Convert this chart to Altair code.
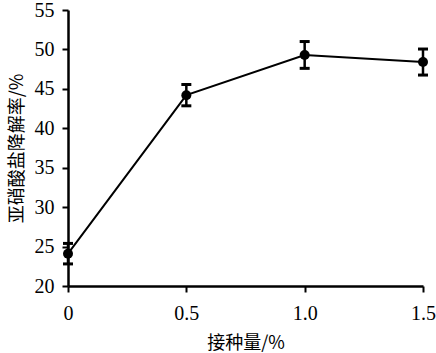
import altair as alt
import pandas as pd

inoculum = [0, 0.5, 1.0, 1.5]
rate = [24.1, 44.2, 49.3, 48.4]
err = [1.3, 1.35, 1.7, 1.65]

df = pd.DataFrame({
    "x": inoculum,
    "y": rate,
    "lo": [r - e for r, e in zip(rate, err)],
    "hi": [r + e for r, e in zip(rate, err)],
})

xscale = alt.Scale(domain=[0, 1.5], nice=False, zero=False)
yscale = alt.Scale(domain=[20, 55], nice=False, zero=False)

serif = "Liberation Serif"
cjk = "Noto Sans CJK SC"

common = dict(
    grid=False, domainColor="black", domainWidth=2.5, tickColor="black",
    tickWidth=2, tickSize=6, labelFont=serif, labelFontSize=20,
    labelColor="black", titleFont=cjk, titleFontSize=18,
    titleFontWeight="normal", titleColor="black",
    labelOverlap=False, labelFlush=False,
)

xaxis = alt.Axis(
    title="接种量/%", values=[0, 0.5, 1.0, 1.5],
    labelExpr="datum.value == 0 ? '0' : format(datum.value, '.1f')",
    labelPadding=11, titlePadding=11, **common,
)
yaxis = alt.Axis(
    title="亚硝酸盐降解率/%", values=[20, 25, 30, 35, 40, 45, 50, 55],
    labelPadding=8, titlePadding=8, **common,
)

def X(f):
    return alt.X(f, scale=xscale, axis=xaxis)

def Y(f):
    return alt.Y(f, scale=yscale, axis=yaxis)

base = alt.Chart(df)
line = base.mark_line(color="black", strokeWidth=2).encode(x=X("x:Q"), y=Y("y:Q"))
pts = base.mark_point(filled=True, color="black", size=100, opacity=1).encode(
    x=X("x:Q"), y=Y("y:Q"))
bars = base.mark_rule(color="black", strokeWidth=2.5).encode(
    x=X("x:Q"), y=Y("lo:Q"), y2="hi:Q")
caps_lo = base.mark_tick(color="black", orient="horizontal", size=10, thickness=3, opacity=1).encode(
    x=X("x:Q"), y=Y("lo:Q"))
caps_hi = base.mark_tick(color="black", orient="horizontal", size=10, thickness=3, opacity=1).encode(
    x=X("x:Q"), y=Y("hi:Q"))

chart = alt.layer(line, bars, caps_lo, caps_hi, pts).properties(
    width=355, height=276,
    autosize=alt.AutoSizeParams(type="none"),
    padding={"left": 68, "top": 10, "right": 13, "bottom": 67},
).configure(background="white", view=alt.ViewConfig(stroke=None))

chart.save("out.html", embed_options={"renderer": "svg", "actions": False})
